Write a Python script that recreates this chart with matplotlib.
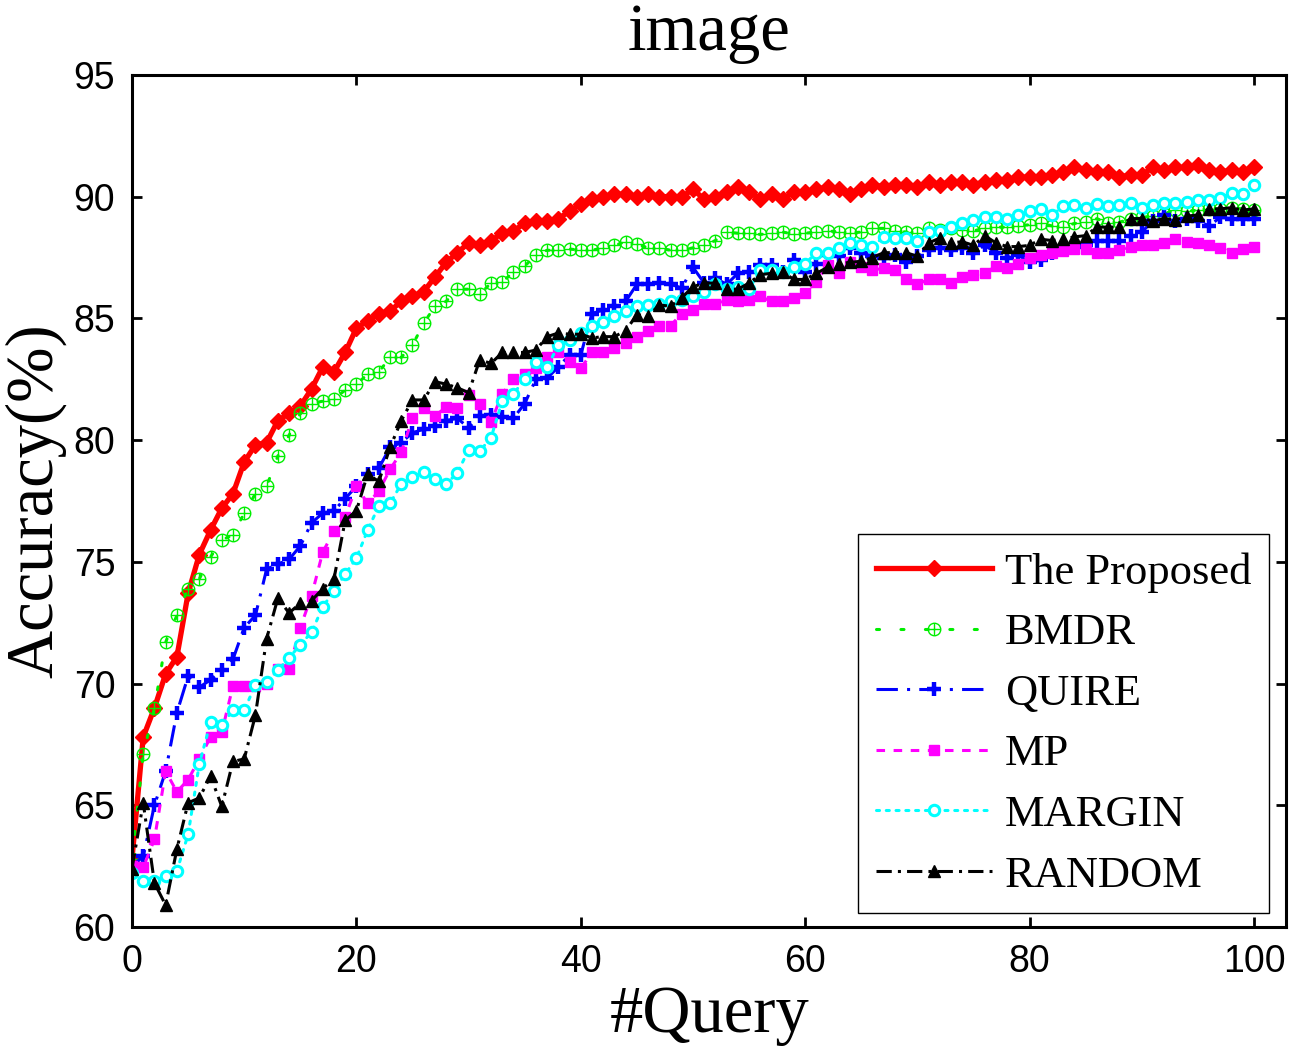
import matplotlib
matplotlib.use("Agg")
import matplotlib.pyplot as plt
from matplotlib.path import Path

# number of queries
queries = list(range(0, 101))

# accuracy (%), one value per query
proposed = [62.8, 67.8, 69.0, 70.4, 71.1, 73.7, 75.3, 76.3, 77.2, 77.8,
            79.1, 79.8, 79.9, 80.8, 81.1, 81.4, 82.1, 83.0, 82.8, 83.6,
            84.6, 84.9, 85.2, 85.3, 85.7, 85.9, 86.1, 86.7, 87.3, 87.7,
            88.1, 88.0, 88.2, 88.5, 88.6, 88.9, 89.0, 89.0, 89.1, 89.4,
            89.7, 89.9, 90.0, 90.1, 90.1, 90.0, 90.1, 90.0, 90.0, 90.0,
            90.3, 89.9, 90.0, 90.2, 90.4, 90.2, 89.9, 90.1, 89.9, 90.2,
            90.2, 90.3, 90.4, 90.3, 90.1, 90.3, 90.5, 90.4, 90.5, 90.5,
            90.4, 90.6, 90.5, 90.6, 90.6, 90.5, 90.6, 90.7, 90.7, 90.8,
            90.8, 90.8, 90.9, 91.0, 91.2, 91.1, 91.0, 91.0, 90.8, 90.9,
            90.9, 91.2, 91.1, 91.2, 91.2, 91.3, 91.1, 91.0, 91.1, 91.0,
            91.2]
bmdr = [62.8, 67.1, 69.0, 71.7, 72.8, 73.9, 74.3, 75.2, 75.9, 76.1,
        77.0, 77.8, 78.1, 79.35, 80.2, 81.1, 81.5, 81.6, 81.7, 82.05,
        82.3, 82.7, 82.8, 83.4, 83.4, 83.9, 84.8, 85.5, 85.7, 86.2,
        86.2, 86.0, 86.45, 86.5, 86.9, 87.15, 87.6, 87.8, 87.8, 87.85,
        87.8, 87.8, 87.9, 88.0, 88.15, 88.05, 87.9, 87.9, 87.8, 87.8,
        87.9, 88.0, 88.2, 88.55, 88.5, 88.5, 88.45, 88.5, 88.55, 88.45,
        88.5, 88.55, 88.6, 88.55, 88.5, 88.55, 88.7, 88.7, 88.6, 88.55,
        88.5, 88.7, 88.65, 88.7, 88.65, 88.6, 88.7, 88.75, 88.75, 88.8,
        88.85, 88.9, 88.8, 88.75, 88.9, 88.95, 89.1, 88.9, 88.95, 89.1,
        89.15, 89.2, 89.3, 89.45, 89.4, 89.45, 89.5, 89.5, 89.55, 89.5,
        89.45]
quire = [62.5, 62.9, 65.0, 66.4, 68.8, 70.3, 69.85, 70.15, 70.55, 71.0,
         72.3, 72.8, 74.7, 74.9, 75.1, 75.65, 76.6, 77.0, 77.1, 77.6,
         78.1, 78.6, 78.85, 79.7, 79.9, 80.3, 80.45, 80.6, 80.8, 80.9,
         80.5, 81.0, 81.05, 80.95, 80.9, 81.5, 82.5, 82.55, 83.0, 83.5,
         83.5, 85.2, 85.35, 85.5, 85.7, 86.4, 86.4, 86.45, 86.4, 86.25,
         87.1, 86.45, 86.65, 86.4, 86.85, 86.9, 87.2, 87.2, 86.9, 87.4,
         86.9, 87.25, 87.6, 87.55, 87.9, 87.7, 87.55, 87.5, 87.6, 87.3,
         87.55, 87.8, 87.9, 87.8, 87.9, 87.7, 88.0, 87.7, 87.5, 87.6,
         87.3, 87.4, 87.7, 87.9, 87.95, 88.0, 88.2, 88.2, 88.2, 88.4,
         88.55, 89.0, 89.25, 89.0, 89.1, 89.0, 88.8, 89.15, 89.1, 89.1,
         89.1]
mp = [62.5, 62.45, 63.6, 66.4, 65.55, 66.05, 66.9, 67.8, 68.0, 69.9,
      69.9, 69.9, 70.0, 70.6, 70.6, 72.3, 73.6, 75.4, 76.25, 76.85,
      78.1, 77.4, 77.9, 78.8, 79.5, 80.9, 81.3, 81.0, 81.35, 81.3,
      81.85, 81.5, 80.75, 81.9, 82.5, 82.7, 82.95, 83.4, 83.6, 83.2,
      82.95, 83.6, 83.6, 83.8, 84.0, 84.25, 84.5, 84.7, 84.7, 85.2,
      85.35, 85.6, 85.6, 85.75, 85.7, 85.75, 85.9, 85.7, 85.7, 85.85,
      86.05, 86.5, 87.2, 86.85, 87.3, 87.1, 87.0, 87.05, 87.0, 86.6,
      86.4, 86.6, 86.6, 86.45, 86.7, 86.8, 86.85, 87.15, 87.05, 87.25,
      87.5, 87.6, 87.7, 87.75, 87.85, 87.85, 87.7, 87.7, 87.8, 87.95,
      88.0, 88.0, 88.1, 88.25, 88.15, 88.1, 88.0, 87.9, 87.7, 87.85,
      87.95]
margin = [62.2, 61.9, 61.9, 62.1, 62.3, 63.8, 66.7, 68.4, 68.3, 68.9,
          68.9, 69.95, 70.05, 70.55, 71.05, 71.6, 72.1, 73.15, 73.8, 74.5,
          75.15, 76.3, 77.3, 77.4, 78.2, 78.5, 78.7, 78.4, 78.2, 78.65,
          79.6, 79.55, 80.1, 81.6, 81.9, 82.5, 83.2, 83.0, 83.9, 84.1,
          84.4, 84.7, 84.85, 85.1, 85.3, 85.5, 85.55, 85.6, 85.7, 85.75,
          85.9, 86.1, 86.4, 86.2, 86.3, 86.2, 87.0, 87.0, 86.9, 87.1,
          87.25, 87.7, 87.7, 87.9, 88.1, 88.0, 87.95, 88.35, 88.3, 88.3,
          88.2, 88.55, 88.6, 88.75, 88.9, 89.05, 89.15, 89.15, 89.1, 89.25,
          89.4, 89.5, 89.25, 89.6, 89.65, 89.55, 89.7, 89.6, 89.65, 89.75,
          89.55, 89.65, 89.75, 89.75, 89.8, 89.85, 89.85, 89.95, 90.15, 90.1,
          90.5]
random_ = [62.4, 65.1, 61.8, 60.9, 63.2, 65.1, 65.3, 66.2, 64.95, 66.8,
           66.9, 68.7, 71.85, 73.5, 72.9, 73.3, 73.4, 73.9, 74.3, 76.7,
           77.1, 78.6, 78.3, 79.7, 80.8, 81.65, 81.65, 82.4, 82.3, 82.15,
           81.95, 83.3, 83.15, 83.6, 83.6, 83.6, 83.7, 84.25, 84.4, 84.35,
           84.35, 84.2, 84.25, 84.25, 84.5, 85.15, 85.1, 85.55, 85.5, 85.85,
           86.3, 86.45, 86.45, 86.2, 86.2, 86.45, 86.8, 86.85, 86.9, 86.6,
           86.6, 86.85, 87.1, 87.25, 87.3, 87.35, 87.5, 87.7, 87.7, 87.7,
           87.55, 88.1, 88.3, 88.1, 88.15, 88.0, 88.4, 88.1, 87.95, 87.95,
           88.0, 88.25, 88.2, 88.25, 88.35, 88.4, 88.75, 88.75, 88.75, 89.1,
           89.1, 89.0, 89.1, 89.05, 89.2, 89.25, 89.5, 89.5, 89.55, 89.45,
           89.5]

plt.rcParams["font.family"] = "Liberation Serif"

# circle with a plus inside (MATLAB-ish marker used for BMDR)
oplus = Path.make_compound_path(
    Path.unit_circle(),
    Path([(-1, 0), (1, 0)], [Path.MOVETO, Path.LINETO]),
    Path([(0, -1), (0, 1)], [Path.MOVETO, Path.LINETO]),
)

fig = plt.figure(figsize=(13.07, 10.56), dpi=100)
ax = fig.add_axes([0.101, 0.1222, 0.8833, 0.8068])

ax.plot(queries, proposed, color="#ff0000", lw=3.8, marker="D", ms=8.5,
        label="The Proposed")
ax.plot(queries, bmdr, color="#00ee00", lw=2.2, ls=(0, (1, 7)),
        dash_capstyle="round", marker=oplus, ms=9, mfc="none", mew=1.0,
        label="BMDR")
ax.plot(queries, quire, color="#0000ff", lw=2.2, ls=(0, (7, 3, 1, 3)),
        marker="+", ms=10, mew=3.2, label="QUIRE")
ax.plot(queries, mp, color="#ff00ff", lw=2.2, ls=(0, (2.8, 2.8)),
        marker="s", ms=7, label="MP")
ax.plot(queries, margin, color="#00ffff", lw=2.2, ls=(0, (1, 2.2)),
        dash_capstyle="round", marker="o", ms=7.5, mfc="white", mew=2.2,
        label="MARGIN")
ax.plot(queries, random_, color="black", lw=2.2, ls=(0, (5, 2, 1, 2)),
        marker="^", ms=8, label="RANDOM")

ax.set_xlim(0, 102.9)
ax.set_ylim(60, 95)
ax.set_xticks([0, 20, 40, 60, 80, 100])
ax.set_yticks([60, 65, 70, 75, 80, 85, 90, 95])
ax.tick_params(direction="in", top=True, right=True, length=7, width=2,
               labelsize=27, pad=12)
for lab in ax.get_xticklabels() + ax.get_yticklabels():
    lab.set_fontfamily("Liberation Sans")
for sp in ax.spines.values():
    sp.set_linewidth(2.2)

ax.set_title("image", fontsize=48, pad=18)
ax.set_xlabel("#Query", fontsize=48, labelpad=4)
ax.set_ylabel("Accuracy(%)", fontsize=48, labelpad=5)

leg = ax.legend(loc="lower right", bbox_to_anchor=(0.985, 0.016),
                borderaxespad=0, fontsize=32, fancybox=False, numpoints=1,
                handlelength=2.6, handletextpad=0.3, labelspacing=0.46,
                borderpad=0.4, framealpha=1)
leg.get_frame().set_edgecolor("black")
leg.get_frame().set_linewidth(1.0)

fig.savefig("out.png", dpi=100)
